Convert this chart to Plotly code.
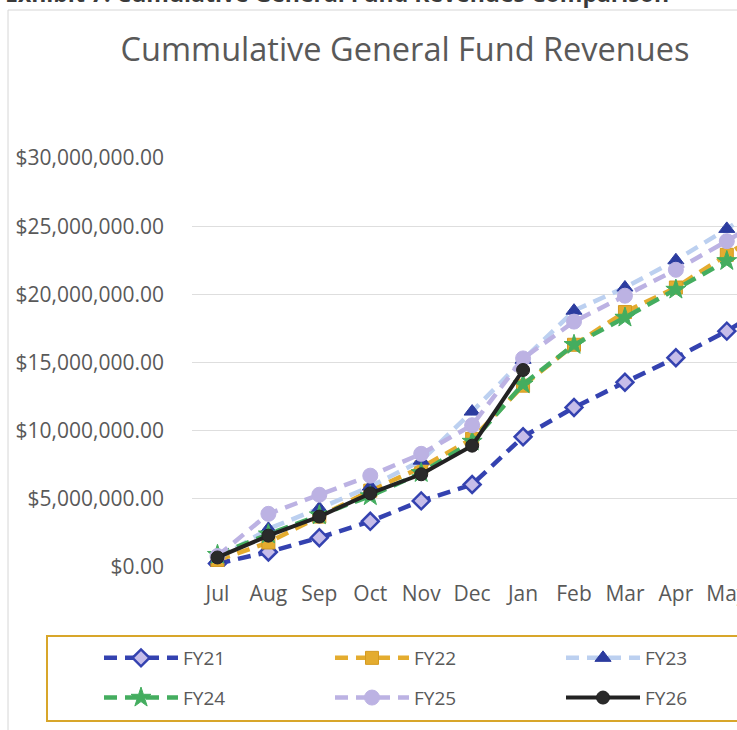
import plotly.graph_objects as go

months = ["Jul", "Aug", "Sep", "Oct", "Nov", "Dec", "Jan", "Feb", "Mar", "Apr", "May", "Jun"]

fy21 = [0.25e6, 1.1e6, 2.15e6, 3.35e6, 4.85e6, 6.05e6, 9.55e6, 11.7e6, 13.55e6, 15.35e6, 17.3e6, 19.6e6]
fy22 = [0.5e6, 1.8e6, 3.7e6, 5.6e6, 7.3e6, 9.4e6, 13.3e6, 16.3e6, 18.7e6, 20.5e6, 22.9e6, 25.3e6]
fy23 = [0.6e6, 2.8e6, 4.3e6, 5.9e6, 7.8e6, 11.4e6, 15.2e6, 18.8e6, 20.5e6, 22.5e6, 24.8e6, 27.3e6]
fy24 = [0.9e6, 2.4e6, 3.8e6, 5.2e6, 6.9e6, 9.2e6, 13.4e6, 16.3e6, 18.3e6, 20.35e6, 22.45e6, 24.7e6]
fy25 = [0.8e6, 3.9e6, 5.3e6, 6.7e6, 8.3e6, 10.4e6, 15.3e6, 18.0e6, 19.9e6, 21.8e6, 23.9e6, 26.2e6]
fy26 = [0.7e6, 2.3e6, 3.7e6, 5.4e6, 6.8e6, 8.9e6, 14.45e6]

y_ticks = [0, 5e6, 10e6, 15e6, 20e6, 25e6, 30e6]
y_tick_labels = ["$0.00", "$5,000,000.00", "$10,000,000.00", "$15,000,000.00",
                 "$20,000,000.00", "$25,000,000.00", "$30,000,000.00"]

FONT = "Open Sans"
GRAY = "#595959"
DASH = "13px,8px"

series = [
    dict(name="FY21", y=fy21, line=dict(color="#3442b0", width=4.5, dash=DASH),
         marker=dict(symbol="diamond", size=13, color="#c6bde9", line=dict(color="#3442b0", width=2.5)),
         legend="legend"),
    dict(name="FY22", y=fy22, line=dict(color="#e4ac2f", width=4.5, dash=DASH),
         marker=dict(symbol="square", size=13, color="#e4ac2f", line=dict(color="#d49a20", width=1)),
         legend="legend2"),
    dict(name="FY23", y=fy23, line=dict(color="#bcd0f0", width=4.5, dash=DASH),
         marker=dict(symbol="triangle-up", size=14, color="#2c3c9f", line=dict(color="#2c3c9f", width=1)),
         legend="legend3"),
    dict(name="FY24", y=fy24, line=dict(color="#44ad5f", width=4.5, dash=DASH),
         marker=dict(symbol="star", size=15, color="#44ad5f", line=dict(color="#44ad5f", width=1)),
         legend="legend"),
    dict(name="FY25", y=fy25, line=dict(color="#bcb2e3", width=4.5, dash=DASH),
         marker=dict(symbol="circle", size=15, color="#bcb2e3", line=dict(color="#bcb2e3", width=1)),
         legend="legend2"),
    dict(name="FY26", y=fy26, line=dict(color="#222222", width=4),
         marker=dict(symbol="circle", size=13, color="#2a2a2a", line=dict(color="#222222", width=1)),
         legend="legend3"),
]

fig = go.Figure()
for s in series:
    fig.add_trace(go.Scatter(
        x=list(range(len(s["y"]))), y=s["y"], name=s["name"], mode="lines+markers",
        line=s["line"], marker=s["marker"], legend=s["legend"], legendgroup=s["name"],
    ))

ML, MR, MT, MB = 192, 0, 158, 163
W, H = 737, 730
PW, PH = W - ML - MR, H - MT - MB

def px(x):
    return (x - ML) / PW

def py(y):
    return (H - MB - y) / PH

legend_common = dict(
    orientation="v", traceorder="grouped", tracegroupgap=12, itemwidth=74,
    bgcolor="rgba(0,0,0,0)", borderwidth=0,
    font=dict(family=FONT, size=19, color=GRAY),
    xref="container", yref="container",
    xanchor="left", yanchor="top", y=1 - 639 / H,
)

fig.update_layout(
    width=W, height=H,
    margin=dict(l=ML, r=MR, t=MT, b=MB, autoexpand=False),
    paper_bgcolor="white", plot_bgcolor="white",
    title=dict(text="Cummulative General Fund Revenues", x=405 / W, xref="container", xanchor="center",
               y=1 - 50 / H, yref="container", yanchor="middle",
               font=dict(family=FONT, size=32.5, color=GRAY)),
    xaxis=dict(range=[-0.5, 10.2], tickmode="array", tickvals=list(range(len(months))), ticktext=months,
               showgrid=False, zeroline=False, showline=False, ticks="", automargin=False,
               ticklabeloverflow="allow",
               tickfont=dict(family=FONT, size=21, color=GRAY), ticklabelstandoff=12),
    yaxis=dict(range=[0, 30e6], tickmode="array", tickvals=y_ticks, ticktext=y_tick_labels,
               showgrid=True, gridcolor="#dedede", gridwidth=1, zeroline=False, showline=False, ticks="",
               automargin=False,
               tickfont=dict(family=FONT, size=21, color=GRAY), ticklabelstandoff=27),
    legend=dict(legend_common, x=99 / W),
    legend2=dict(legend_common, x=330 / W),
    legend3=dict(legend_common, x=561 / W),
    showlegend=True,
    shapes=[
        dict(type="rect", xref="paper", yref="paper", x0=px(8), x1=1.2, y0=py(10), y1=-0.6,
             line=dict(color="#d6d6d6", width=1), fillcolor="rgba(0,0,0,0)", layer="below"),
        dict(type="rect", xref="paper", yref="paper", x0=px(47), x1=1.1, y0=py(636), y1=py(721),
             line=dict(color="#d8a62a", width=2), fillcolor="rgba(0,0,0,0)", layer="below"),
    ],
    annotations=[
        dict(text="<b>Exhibit 7: Cumulative General Fund Revenues Comparison</b>", xref="paper", yref="paper",
             x=px(3), y=py(0), xanchor="left", yanchor="bottom", yshift=-11, showarrow=False,
             font=dict(family=FONT, size=23, color="#3a3a3a")),
    ],
)

fig.write_html("out.html", config={"displayModeBar": False},
               post_script="document.body.style.margin='0';document.body.style.overflow='hidden';")
